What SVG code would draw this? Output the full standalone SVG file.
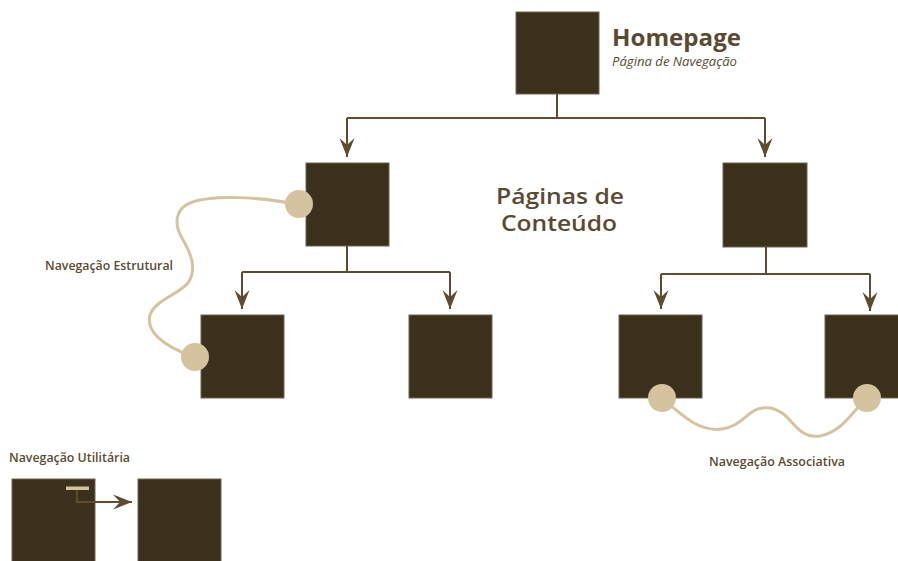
<svg xmlns="http://www.w3.org/2000/svg" width="898" height="561" viewBox="0 0 898 561">
<defs>
<style>
.box{fill:#3b301b;stroke:#6f6450;stroke-width:1}
.ln{fill:none;stroke:#5e4c31;stroke-width:2}
.nav{fill:none;stroke:#d5c3a0;stroke-width:3}
.dot{fill:#d5c3a0}
.lbl{font-family:"Open Sans","Liberation Sans",sans-serif;fill:#5a4a32}
</style>
<marker id="ah" markerWidth="21" markerHeight="16" viewBox="-20 -8 21 16" refX="0" refY="0" orient="auto" markerUnits="userSpaceOnUse">
<path d="M0,0 L-19,-7.5 L-12,0 L-19,7.5 Z" fill="#5e4c31"/>
</marker>
</defs>
<rect width="898" height="561" fill="#ffffff"/>
<g id="home"><rect class="box" x="516" y="12" width="83" height="82"/></g>
<g id="content-left"><rect class="box" x="306" y="163" width="83" height="83"/></g>
<g id="content-right"><rect class="box" x="723" y="163" width="84" height="84"/></g>
<g id="page-1"><rect class="box" x="201" y="315" width="83" height="83"/></g>
<g id="page-2"><rect class="box" x="409" y="315" width="83" height="83"/></g>
<g id="page-3"><rect class="box" x="619" y="315" width="83" height="83"/></g>
<g id="page-4"><rect class="box" x="825" y="315" width="85" height="83"/></g>
<g id="util-1"><rect class="box" x="12" y="479" width="83" height="85"/></g>
<g id="util-2"><rect class="box" x="138" y="479" width="83" height="85"/></g>
<g id="connectors">
<path class="ln" d="M557,94 V118"/>
<path class="ln" d="M347,118 H765"/>
<path class="ln" d="M347,118 V157" marker-end="url(#ah)"/>
<path class="ln" d="M765,118 V157" marker-end="url(#ah)"/>
<path class="ln" d="M347,246 V272"/>
<path class="ln" d="M242,272 H450"/>
<path class="ln" d="M242,272 V309" marker-end="url(#ah)"/>
<path class="ln" d="M450,272 V309" marker-end="url(#ah)"/>
<path class="ln" d="M766,247 V274"/>
<path class="ln" d="M661,274 H870"/>
<path class="ln" d="M661,274 V309" marker-end="url(#ah)"/>
<path class="ln" d="M870,274 V311" marker-end="url(#ah)"/>
<path class="ln" d="M77,489 V502 H132" marker-end="url(#ah)"/>
</g>
<g id="nav-estrutural">
<path class="nav" d="M298,205 C260,196 210,195 190,203 C175,209 174,225 182,238 C190,252 198,268 188,283 C178,295 155,300 150,315 C146,330 160,345 194,357"/>
<circle class="dot" cx="299" cy="204" r="14"/>
<circle class="dot" cx="195" cy="357" r="14"/>
</g>
<g id="nav-associativa">
<path class="nav" d="M662,398 C685,418 700,432 722,429 C745,426 748,405 770,408 C792,411 795,440 820,436 C842,432 852,412 867,398"/>
<circle class="dot" cx="662" cy="398" r="14"/>
<circle class="dot" cx="867" cy="398" r="14"/>
</g>
<g id="nav-utilitaria">
<rect class="dot" x="66" y="486.5" width="23" height="3.5"/>
</g>
<g id="labels">
<text class="lbl" x="612" y="46" font-size="24" font-weight="700" textLength="129" lengthAdjust="spacingAndGlyphs">Homepage</text>
<text class="lbl" x="612" y="65.5" font-size="12" font-style="italic" textLength="125" lengthAdjust="spacingAndGlyphs">Página de Navegação</text>
<text class="lbl" x="496" y="204" font-size="21" font-weight="600" textLength="128" lengthAdjust="spacingAndGlyphs">Páginas de</text>
<text class="lbl" x="501" y="231" font-size="21" font-weight="600" textLength="116" lengthAdjust="spacingAndGlyphs">Conteúdo</text>
<text class="lbl" x="45" y="270" font-size="12" font-weight="600" textLength="128" lengthAdjust="spacingAndGlyphs">Navegação Estrutural</text>
<text class="lbl" x="9" y="462" font-size="12" font-weight="600" textLength="121" lengthAdjust="spacingAndGlyphs">Navegação Utilitária</text>
<text class="lbl" x="709" y="466" font-size="12" font-weight="600" textLength="136" lengthAdjust="spacingAndGlyphs">Navegação Associativa</text>
</g>
</svg>
